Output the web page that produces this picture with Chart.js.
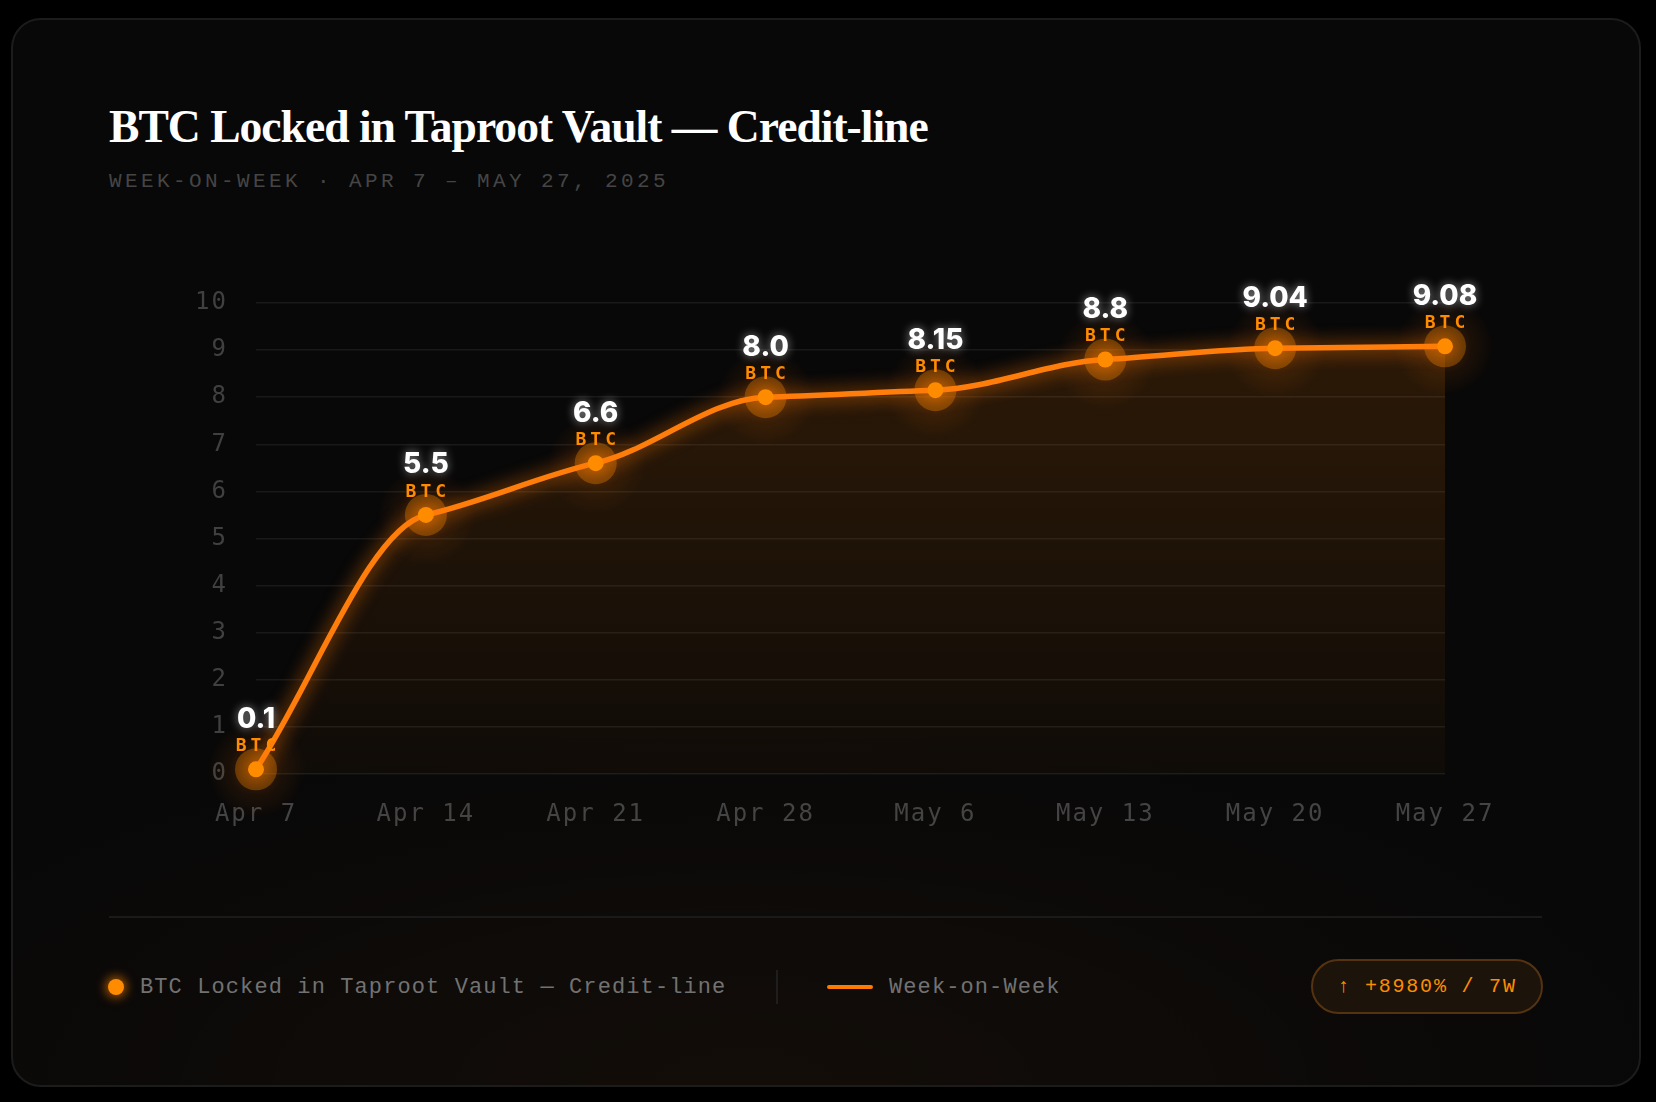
<!DOCTYPE html>
<html lang="en">
<head>
<meta charset="UTF-8">
<title>BTC Locked in Taproot Vault — Credit-line</title>
<style>
    html, body {
        margin: 0;
        padding: 0;
        width: 1656px;
        height: 1102px;
        background: #000;
        overflow: hidden;
    }
    .card {
        position: absolute;
        left: 11px;
        top: 18px;
        width: 1626px;
        height: 1065px;
        border: 2px solid #1c1c1c;
        border-radius: 30px;
        background:
            radial-gradient(ellipse 60% 35% at 45% 100%, rgba(255, 120, 0, 0.045), rgba(255, 120, 0, 0) 100%),
            #080808;
    }
    .title {
        position: absolute;
        left: 109px;
        top: 99px;
        font-family: "Liberation Serif", "DejaVu Serif", serif;
        font-weight: bold;
        font-size: 45.6px;
        letter-spacing: -1px;
        color: #fff;
        white-space: nowrap;
        line-height: 56px;
    }
    .subtitle {
        position: absolute;
        left: 109px;
        top: 169px;
        font-family: "Liberation Mono", "DejaVu Sans Mono", monospace;
        font-size: 21px;
        letter-spacing: 3.4px;
        color: #454545;
        white-space: nowrap;
        line-height: 26px;
    }
    .chart-box {
        position: absolute;
        left: 150px;
        top: 230px;
        width: 1392px;
        height: 620px;
    }
    .divider {
        position: absolute;
        left: 109px;
        top: 916px;
        width: 1433px;
        height: 2px;
        background: #1a1a1a;
    }
    .legend {
        position: absolute;
        top: 975px;
        height: 26px;
        font-family: "Liberation Mono", "DejaVu Sans Mono", monospace;
        font-size: 22px;
        letter-spacing: 1.1px;
        color: #727272;
        white-space: nowrap;
        line-height: 26px;
    }
    .dot {
        position: absolute;
        left: 108px;
        top: 979px;
        width: 16px;
        height: 16px;
        border-radius: 50%;
        background: #ff8c00;
        box-shadow: 0 0 10px 3px rgba(255, 130, 0, 0.55);
    }
    .sep {
        position: absolute;
        left: 776px;
        top: 970px;
        width: 2px;
        height: 34px;
        background: #1e1e1e;
    }
    .swatch {
        position: absolute;
        left: 827px;
        top: 985px;
        width: 46px;
        height: 4px;
        border-radius: 2px;
        background: #ff7a00;
    }
    .badge {
        position: absolute;
        left: 1311px;
        top: 959px;
        width: 228px;
        height: 51px;
        border: 2px solid #553311;
        border-radius: 28px;
        background: #1c130a;
        font-family: "Liberation Mono", "DejaVu Sans Mono", monospace;
        font-size: 20px;
        letter-spacing: 1.8px;
        color: #ff8c00;
        text-align: center;
        line-height: 51px;
        white-space: nowrap;
    }
</style>
</head>
<body>
<div class="card"></div>
<div class="title">BTC Locked in Taproot Vault — Credit-line</div>
<div class="subtitle">WEEK-ON-WEEK · APR 7 – MAY 27, 2025</div>
<div class="chart-box"><canvas id="chart"></canvas></div>
<div class="divider"></div>
<div class="dot"></div>
<div class="legend" style="left:140px">BTC Locked in Taproot Vault — Credit-line</div>
<div class="sep"></div>
<div class="swatch"></div>
<div class="legend" style="left:889px">Week-on-Week</div>
<div class="badge">↑ +8980% / 7W</div>

<script src="https://cdn.jsdelivr.net/npm/chart.js"></script>
<script>
    // data
    const weeks = ['Apr 7', 'Apr 14', 'Apr 21', 'Apr 28', 'May 6', 'May 13', 'May 20', 'May 27'];
    const btcLocked = [0.1, 5.5, 6.6, 8.0, 8.15, 8.8, 9.04, 9.08];
    const yTicks = [0, 1, 2, 3, 4, 5, 6, 7, 8, 9, 10];

    const ORANGE = '#ff8c00';

    function fmt(v) {
        return Number.isInteger(v) ? v.toFixed(1) : String(v);
    }

    // wide spacing on the axis labels only
    const spacingPlugin = {
        id: 'tickSpacing',
        beforeDraw(chart) { chart.ctx.letterSpacing = '2px'; },
        beforeDatasetsDraw(chart) { chart.ctx.letterSpacing = '0px'; }
    };

    // softer knees than chart.js monotone: tangent = smaller neighbour slope
    const curvePlugin = {
        id: 'softCurve',
        beforeDatasetsDraw(chart) {
            chart.data.datasets.forEach((ds, di) => {
                const pts = chart.getDatasetMeta(di).data;
                const n = pts.length;
                const s = [];
                for (let i = 0; i < n - 1; i++) {
                    s.push((pts[i + 1].y - pts[i].y) / (pts[i + 1].x - pts[i].x));
                }
                const m = pts.map((p, i) => {
                    if (i === 0) return s[0];
                    if (i === n - 1) return s[n - 2];
                    if (s[i - 1] * s[i] <= 0) return 0;
                    return Math.sign(s[i]) * Math.min(Math.abs(s[i - 1]), Math.abs(s[i])) * 0.75;
                });
                for (let i = 0; i < n - 1; i++) {
                    const dx = (pts[i + 1].x - pts[i].x) / 3;
                    pts[i].cp2x = pts[i].x + dx;
                    pts[i].cp2y = pts[i].y + m[i] * dx;
                    pts[i + 1].cp1x = pts[i + 1].x - dx;
                    pts[i + 1].cp1y = pts[i + 1].y - m[i + 1] * dx;
                }
            });
        }
    };

    // halos under the points + glow on the line + value labels
    const glowPlugin = {
        id: 'glow',
        beforeDatasetDraw(chart, args) {
            if (args.index !== 1) return;
            const ctx = chart.ctx;
            const pts = chart.getDatasetMeta(1).data;
            ctx.save();
            pts.forEach(p => {
                const g = ctx.createRadialGradient(p.x, p.y, 0, p.x, p.y, 50);
                g.addColorStop(0, 'rgba(255,120,0,0.17)');
                g.addColorStop(1, 'rgba(255,120,0,0)');
                ctx.fillStyle = g;
                ctx.beginPath();
                ctx.arc(p.x, p.y, 50, 0, Math.PI * 2);
                ctx.fill();
                ctx.fillStyle = 'rgba(255,140,0,0.32)';
                ctx.beginPath();
                ctx.arc(p.x, p.y, 21, 0, Math.PI * 2);
                ctx.fill();
            });
            ctx.restore();
            ctx.save();
            ctx.shadowColor = 'rgba(255,120,0,0.9)';
            ctx.shadowBlur = 18;
        },
        afterDatasetDraw(chart, args) {
            if (args.index !== 1) return;
            chart.ctx.restore();
        },
        afterDatasetsDraw(chart) {
            const ctx = chart.ctx;
            const pts = chart.getDatasetMeta(1).data;
            pts.forEach((p, i) => {
                ctx.save();
                ctx.textAlign = 'center';
                ctx.textBaseline = 'middle';
                ctx.font = '800 28px Inter, "DejaVu Sans", sans-serif';
                ctx.fillStyle = '#ffffff';
                ctx.shadowColor = 'rgba(255,255,255,0.55)';
                ctx.shadowBlur = 10;
                ctx.fillText(fmt(btcLocked[i]), p.x, p.y - 50);
                ctx.shadowBlur = 0;
                ctx.font = '600 18px "DejaVu Sans Mono", monospace';
                ctx.letterSpacing = '4px';
                ctx.fillStyle = ORANGE;
                ctx.fillText('BTC', p.x + 2, p.y - 23);
                ctx.restore();
            });
        }
    };

    const ctx = document.getElementById('chart').getContext('2d');

    new Chart(ctx, {
        type: 'line',
        data: {
            labels: weeks,
            datasets: [
                {
                    // area under the curve
                    data: btcLocked,
                    borderWidth: 0,
                    pointRadius: 0,
                    cubicInterpolationMode: 'monotone',
                    fill: 'origin',
                    order: 2,
                    backgroundColor(c) {
                        const a = c.chart.chartArea;
                        if (!a) return 'rgba(255,128,0,0.1)';
                        const g = c.chart.ctx.createLinearGradient(0, a.top, 0, a.bottom);
                        g.addColorStop(0, 'rgba(255,128,0,0.16)');
                        g.addColorStop(1, 'rgba(255,128,0,0.03)');
                        return g;
                    }
                },
                {
                    label: 'BTC Locked in Taproot Vault — Credit-line',
                    data: btcLocked,
                    borderColor: '#ff7d0a',
                    borderWidth: 5.5,
                    cubicInterpolationMode: 'monotone',
                    fill: false,
                    clip: false,
                    order: 1,
                    pointRadius: 8,
                    pointBackgroundColor: ORANGE,
                    pointBorderWidth: 0,
                    pointHoverRadius: 8
                }
            ]
        },
        options: {
            responsive: true,
            maintainAspectRatio: false,
            animation: false,
            layout: { padding: { top: 73, right: 97, left: 0, bottom: 0 } },
            plugins: {
                legend: { display: false },
                tooltip: { enabled: false }
            },
            scales: {
                x: {
                    grid: { display: false, drawTicks: false },
                    border: { display: false },
                    ticks: {
                        color: '#444444',
                        font: { family: '"DejaVu Sans Mono", monospace', size: 24 },
                        padding: 26,
                        maxRotation: 0,
                        autoSkip: false
                    },
                    afterFit(s) { s.height = 76; }
                },
                y: {
                    min: 0,
                    max: 10,
                    afterBuildTicks(s) { s.ticks = yTicks.map(v => ({ value: v })); },
                    grid: { color: 'rgba(255,255,255,0.07)', lineWidth: 1.5, drawTicks: false },
                    border: { display: false },
                    ticks: {
                        color: '#404040',
                        font: { family: '"DejaVu Sans Mono", monospace', size: 24 },
                        padding: 28
                    },
                    afterFit(s) { s.width = 106; }
                }
            }
        },
        plugins: [spacingPlugin, curvePlugin, glowPlugin]
    });
</script>
</body>
</html>
